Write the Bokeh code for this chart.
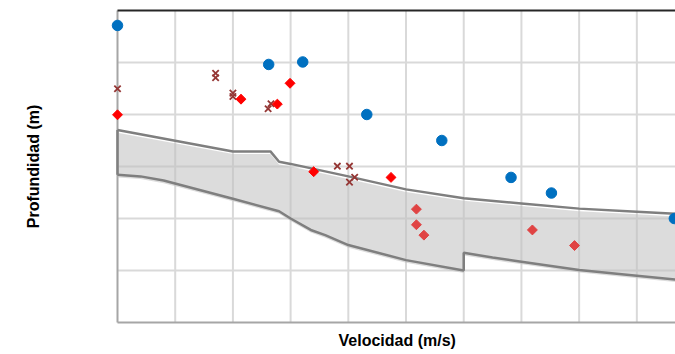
import numpy as np
from bokeh.plotting import figure
from bokeh.models import Range1d, FixedTicker, Title
from bokeh.embed import file_html
from bokeh.resources import INLINE

# ---- data (velocity m/s, depth m) ----
blue_v = [0, 262, 321, 432, 562, 682, 752, 965]
blue_d = [1.44, 5.19, 4.95, 10.0, 12.5, 16.05, 17.55, 20.0]

red_v = [0, 214, 277, 299, 340, 474]
red_d = [10.03, 8.53, 9.0, 7.0, 15.5, 16.05]

lred_v = [518, 518, 531, 719, 792]
lred_d = [19.1, 20.6, 21.6, 21.1, 22.6]

star_v = [0, 170, 170, 200, 200, 261, 266, 381, 402, 411, 402]
star_d = [7.53, 6.03, 6.47, 7.95, 8.27, 9.45, 8.97, 14.97, 14.97, 16.03, 16.5]

upper_v = [0, 200, 265, 280, 300, 400, 500, 600, 700, 800, 900, 1000]
upper_d = [11.5, 13.55, 13.55, 14.55, 14.75, 15.95, 17.2, 18.05, 18.55, 19.05, 19.35, 19.65]

lower_v = [0, 40, 80, 200, 280, 300, 335, 360, 400, 500, 600, 600, 650, 700, 800, 900, 1000]
lower_d = [15.8, 15.95, 16.35, 18.1, 19.3, 20.0, 21.1, 21.6, 22.55, 24.0, 25.0, 23.3, 23.75, 24.15, 24.95, 25.5, 26.05]

x_ticks = list(range(0, 1100, 100))
y_ticks = [0, 5, 10, 15, 20, 25, 30]

x_min, x_max = 0, 1000
y_min, y_max = 0, 30

p = figure(width=675, height=354, output_backend="svg", toolbar_location=None,
           x_range=Range1d(-20.8, 967), y_range=Range1d(30.19, -0.19),
           min_border_left=105, min_border_right=0, min_border_top=8, min_border_bottom=30)
p.outline_line_color = None
p.background_fill_color = "white"

for ax in (p.xaxis[0], p.yaxis[0]):
    ax.ticker = FixedTicker(ticks=[])
    ax.axis_line_color = None
    ax.major_tick_line_color = None
    ax.minor_tick_line_color = None
    ax.major_tick_in = 0
    ax.major_tick_out = 0
    ax.minor_tick_in = 0
    ax.minor_tick_out = 0
    ax.major_label_standoff = 0

p.yaxis[0].axis_label = "Profundidad (m)"
p.yaxis[0].axis_label_text_font = "Liberation Sans"
p.yaxis[0].axis_label_text_font_style = "bold"
p.yaxis[0].axis_label_text_font_size = "16px"
p.yaxis[0].axis_label_text_color = "black"
p.yaxis[0].axis_label_standoff = 64

p.xgrid.visible = False
p.ygrid.visible = False

# grid lines inside the data area only
p.segment(x0=x_ticks[1:], y0=y_min, x1=x_ticks[1:], y1=y_max, line_color="#D9D9D9", line_width=2)
p.segment(x0=x_min, y0=y_ticks[1:-1], x1=x_max, y1=y_ticks[1:-1], line_color="#D9D9D9", line_width=2)
# axis lines
p.segment(x0=[x_min], y0=[y_min], x1=[x_min], y1=[y_max], line_color="#A6A6A6", line_width=2)
p.segment(x0=[x_min], y0=[y_max], x1=[x_max], y1=[y_max], line_color="#A6A6A6", line_width=2)

# shaded band (slightly offset below its outline)
off = 0.25
band_x = upper_v + lower_v[::-1]
band_y = [d + off for d in upper_d] + [d + off for d in lower_d[::-1]]
p.patch(band_x, band_y, fill_color="#C0C0C0", fill_alpha=0.55, line_color=None)

p.line(upper_v, upper_d, line_color="#7F7F7F", line_width=2.5)
p.line(lower_v, lower_d, line_color="#7F7F7F", line_width=2.5)
p.line([upper_v[0], lower_v[0]], [upper_d[0], lower_d[0]], line_color="#7F7F7F", line_width=2.5)

# top border
p.segment(x0=[x_min], y0=[y_min], x1=[x_max], y1=[y_min], line_color="#262626", line_width=2)

p.scatter(star_v, star_d, marker="x", size=9, line_color="#953735", line_width=1.8)
p.scatter(red_v, red_d, marker="square", angle=np.pi / 4, size=7, fill_color="#FF0000", line_color="#FF0000")
p.scatter(lred_v, lred_d, marker="square", angle=np.pi / 4, size=7, fill_color="#E04343", line_color="#E04343")
p.scatter(blue_v, blue_d, marker="circle", size=10.5, fill_color="#0070C0", line_color="#0070C0")

p.add_layout(Title(text="Velocidad (m/s)", align="left", offset=233, standoff=11,
                   text_font="Liberation Sans", text_font_style="bold", text_font_size="16px",
                   text_color="black"), "below")

open("out.html", "w").write(file_html(p, INLINE))
